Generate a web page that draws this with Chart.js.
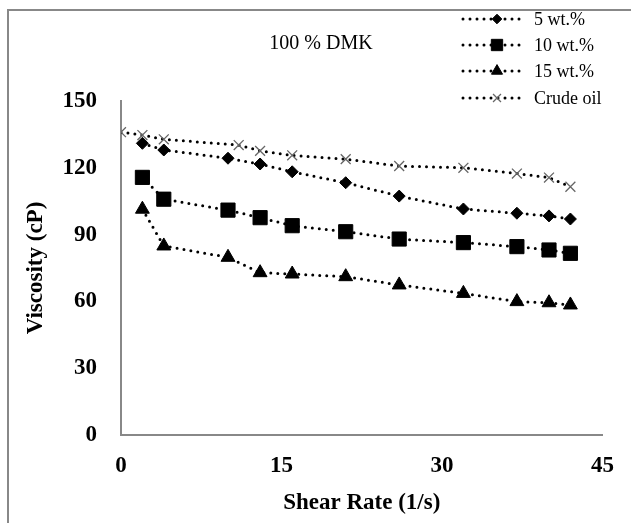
<!DOCTYPE html>
<html>
<head>
<meta charset="utf-8">
<script src="https://cdn.jsdelivr.net/npm/chart.js@4/dist/chart.umd.min.js"></script>
<style>
  body { margin: 0; background: #fff; }
  #wrap { width: 631px; height: 523px; }
</style>
</head>
<body>
<div id="wrap"><canvas id="canvas" width="631" height="523"></canvas></div>
<script>
// shear rate (1/s)
var xCrude = [0, 2, 4, 11, 13, 16, 21, 26, 32, 37, 40, 42];
var xWt = [2, 4, 10, 13, 16, 21, 26, 32, 37, 40, 42];
// viscosity (cP)
var crudeOil = [136, 134.7, 132.8, 130.2, 127.6, 125.6, 123.9, 120.8, 120, 117.4, 115.6, 111.5];
var wt5 = [131, 128, 124.3, 121.7, 118.2, 113.3, 107.3, 101.5, 99.6, 98.4, 97];
var wt10 = [115.7, 105.9, 101, 97.6, 94, 91.3, 88, 86.4, 84.6, 83.1, 81.6];
var wt15 = [101.4, 84.9, 79.8, 72.9, 72.3, 71.1, 67.4, 63.6, 59.9, 59.4, 58.4];
var xTicks = [0, 15, 30, 45];
var yTicks = [0, 30, 60, 90, 120, 150];

function pts(xs, ys) {
  var out = [];
  xs.forEach(function (x, i) { out.push({ x: x, y: ys[i] }); });
  return out;
}

function series(label, data, style, radius, color, bw) {
  return {
    label: label,
    data: data,
    showLine: true,
    fill: false,
    borderColor: '#000',
    borderWidth: 3,
    borderDash: [0, 7],
    borderCapStyle: 'round',
    pointStyle: style,
    pointRadius: radius,
    pointBackgroundColor: color,
    pointBorderColor: color,
    pointBorderWidth: bw,
    lineTension: 0
  };
}

var serif = "'Liberation Serif', 'Times New Roman', serif";
var axisGrey = '#888888';

// grey frame around the whole chart (only top/left show in the picture)
var framePlugin = {
  id: 'frame',
  beforeDraw: function (chart) {
    var ctx = chart.ctx;
    ctx.save();
    ctx.strokeStyle = axisGrey;
    ctx.lineWidth = 2;
    ctx.strokeRect(8, 10, 800, 700);
    ctx.restore();
  }
};

// title + legend with dotted sample lines
var legendPlugin = {
  id: 'dottedLegend',
  afterDraw: function (chart) {
    var ctx = chart.ctx;
    ctx.save();
    ctx.fillStyle = '#000';
    ctx.font = '20px ' + serif;
    ctx.textAlign = 'center';
    ctx.textBaseline = 'middle';
    ctx.fillText('100 % DMK', 321, 44);

    var rows = [19, 45, 71, 98];
    ctx.font = '18px ' + serif;
    ctx.textAlign = 'left';
    chart.data.datasets.forEach(function (ds, i) {
      var y = rows[i];
      ctx.save();
      ctx.strokeStyle = '#000';
      ctx.lineWidth = 3;
      ctx.lineCap = 'round';
      ctx.setLineDash([0, 7]);
      ctx.beginPath();
      ctx.moveTo(463, y);
      ctx.lineTo(521, y);
      ctx.stroke();
      ctx.restore();
      ctx.fillStyle = ds.pointBackgroundColor;
      ctx.strokeStyle = ds.pointBorderColor;
      ctx.lineWidth = ds.pointBorderWidth;
      Chart.helpers.drawPoint(ctx, { pointStyle: ds.pointStyle, radius: ds.pointRadius * 0.8, rotation: 0, borderWidth: ds.pointBorderWidth }, 497, y);
      ctx.fillStyle = '#000';
      ctx.fillText(ds.label, 534, y + 1);
    });
    ctx.restore();
  }
};

var ctx = document.getElementById('canvas').getContext('2d');
var chart = new Chart(ctx, {
  type: 'line',
  data: {
    datasets: [
      series('5 wt.%', pts(xWt, wt5), 'rectRot', 6, '#000', 1),
      series('10 wt.%', pts(xWt, wt10), 'rect', 10, '#000', 1),
      series('15 wt.%', pts(xWt, wt15), 'triangle', 8, '#000', 1),
      series('Crude oil', pts(xCrude, crudeOil), 'crossRot', 7, '#666666', 1.3)
    ]
  },
  options: {
    responsive: false,
    animation: false,
    layout: { padding: { left: 0, top: 101, right: 21, bottom: 0 } },
    plugins: {
      legend: { display: false },
      tooltip: { enabled: false }
    },
    scales: {
      x: {
        type: 'linear',
        min: 0,
        max: 45,
        afterFit: function (s) { s.height = 88; },
        afterBuildTicks: function (s) { s.ticks = xTicks.map(function (v) { return { value: v }; }); },
        grid: { drawOnChartArea: false, drawTicks: false },
        border: { color: axisGrey, width: 2 },
        ticks: { color: '#000', padding: 17, font: { family: serif, size: 23, weight: 'bold' } },
        title: {
          display: true,
          text: 'Shear Rate (1/s)',
          color: '#000',
          padding: { top: 0, bottom: 6 },
          font: { family: serif, size: 23, weight: 'bold' }
        }
      },
      y: {
        type: 'linear',
        min: 0,
        max: 150,
        afterFit: function (s) { s.width = 121; },
        afterBuildTicks: function (s) { s.ticks = yTicks.map(function (v) { return { value: v }; }); },
        grid: { drawOnChartArea: false, drawTicks: false },
        border: { color: axisGrey, width: 2 },
        ticks: { color: '#000', padding: 24, font: { family: serif, size: 23, weight: 'bold' } },
        title: {
          display: true,
          text: 'Viscosity (cP)',
          color: '#000',
          padding: { top: 22, bottom: 0 },
          font: { family: serif, size: 23, weight: 'bold' }
        }
      }
    }
  },
  plugins: [framePlugin, legendPlugin]
});
</script>
</body>
</html>
